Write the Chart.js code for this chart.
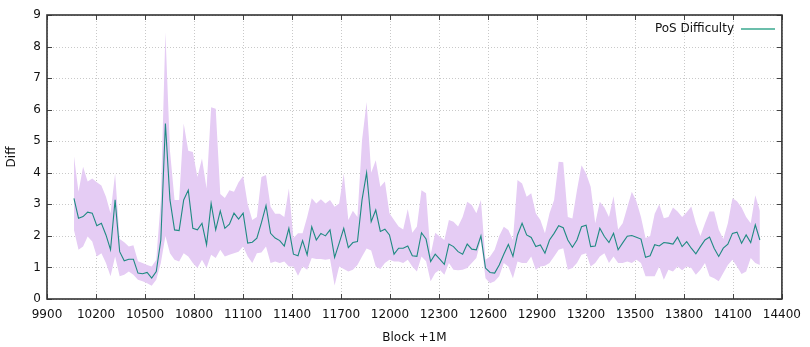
<!DOCTYPE html>
<html>
<head>
<meta charset="utf-8">
<script src="https://cdn.jsdelivr.net/npm/chart.js@4.4.0/dist/chart.umd.min.js"></script>
<style>
  html, body { margin: 0; padding: 0; background: #fff; }
  canvas { display: block; }
</style>
</head>
<body>
<canvas id="chart" width="810" height="347"></canvas>
<script>
// Block height (offset from 1M), sampled every 28 blocks
const blocks = [
  10065, 10093, 10121, 10149, 10177, 10205, 10233, 10261, 10289, 10317,
  10345, 10373, 10401, 10429, 10457, 10485, 10513, 10541, 10569, 10597,
  10625, 10653, 10681, 10709, 10737, 10765, 10793, 10821, 10849, 10877,
  10905, 10933, 10961, 10989, 11017, 11045, 11073, 11101, 11129, 11157,
  11185, 11213, 11241, 11269, 11297, 11325, 11353, 11381, 11409, 11437,
  11465, 11493, 11521, 11549, 11577, 11605, 11633, 11661, 11689, 11717,
  11745, 11773, 11801, 11829, 11857, 11885, 11913, 11941, 11969, 11997,
  12025, 12053, 12081, 12109, 12137, 12165, 12193, 12221, 12249, 12277,
  12305, 12333, 12361, 12389, 12417, 12445, 12473, 12501, 12529, 12557,
  12585, 12613, 12641, 12669, 12697, 12725, 12753, 12781, 12809, 12837,
  12865, 12893, 12921, 12949, 12977, 13005, 13033, 13061, 13089, 13117,
  13145, 13173, 13201, 13229, 13257, 13285, 13313, 13341, 13369, 13397,
  13425, 13453, 13481, 13509, 13537, 13565, 13593, 13621, 13649, 13677,
  13705, 13733, 13761, 13789, 13817, 13845, 13873, 13901, 13929, 13957,
  13985, 14013, 14041, 14069, 14097, 14125, 14153, 14181, 14209, 14237,
  14265
];

// Average PoS difficulty per sample
const diffMean = [
  3.19, 2.56, 2.61, 2.75, 2.72, 2.32, 2.40, 2.03, 1.56, 3.14,
  1.50, 1.21, 1.26, 1.26, 0.82, 0.80, 0.84, 0.66, 0.87, 1.87,
  5.56, 3.14, 2.19, 2.17, 3.14, 3.45, 2.24, 2.19, 2.40, 1.72,
  3.03, 2.19, 2.79, 2.24, 2.37, 2.72, 2.53, 2.72, 1.77, 1.80,
  1.93, 2.42, 2.96, 2.08, 1.93, 1.85, 1.68, 2.24, 1.42, 1.37,
  1.85, 1.40, 2.29, 1.87, 2.08, 2.00, 2.19, 1.32, 1.77, 2.24,
  1.63, 1.79, 1.82, 3.14, 4.00, 2.45, 2.82, 2.14, 2.21, 2.03,
  1.42, 1.61, 1.61, 1.68, 1.37, 1.35, 2.10, 1.90, 1.19, 1.42,
  1.26, 1.10, 1.74, 1.66, 1.50, 1.42, 1.74, 1.58, 1.56, 2.00,
  0.98, 0.84, 0.82, 1.08, 1.42, 1.73, 1.35, 2.03, 2.40, 2.03,
  1.95, 1.66, 1.71, 1.45, 1.87, 2.08, 2.32, 2.26, 1.87, 1.64,
  1.87, 2.29, 2.34, 1.66, 1.68, 2.24, 1.98, 1.79, 2.08, 1.56,
  1.78, 1.99, 2.01, 1.96, 1.90, 1.32, 1.37, 1.72, 1.68, 1.79,
  1.77, 1.74, 1.96, 1.66, 1.82, 1.61, 1.43, 1.66, 1.87, 1.96,
  1.61, 1.35, 1.61, 1.74, 2.08, 2.12, 1.77, 2.03, 1.79, 2.35,
  1.87
];

// Highest difficulty seen in each sample window
const diffMax = [
  4.53, 3.40, 4.19, 3.72, 3.82, 3.70, 3.60, 3.24, 2.72, 3.98,
  1.90, 1.80, 1.66, 1.70, 1.20, 1.14, 1.08, 1.03, 1.24, 3.14,
  8.45, 4.70, 3.14, 3.14, 5.56, 4.70, 4.66, 3.87, 4.45, 3.50,
  6.08, 6.03, 3.33, 3.20, 3.45, 3.40, 3.70, 3.90, 3.00, 2.50,
  2.60, 3.87, 3.93, 2.92, 2.70, 2.70, 2.60, 3.50, 1.93, 2.08,
  2.08, 2.60, 3.19, 3.03, 3.16, 3.03, 3.14, 2.92, 3.03, 3.98,
  2.50, 2.80, 2.60, 5.03, 6.24, 4.00, 4.40, 3.56, 3.72, 2.72,
  2.50, 2.30, 2.20, 2.85, 2.10, 2.30, 3.45, 3.35, 1.40, 2.10,
  1.98, 1.87, 2.50, 2.45, 2.30, 2.60, 3.08, 2.98, 2.72, 3.14,
  1.24, 1.35, 1.56, 2.00, 2.29, 2.19, 1.87, 3.77, 3.66, 3.24,
  3.35, 2.72, 2.50, 2.08, 2.72, 3.14, 4.35, 4.33, 2.60, 2.55,
  3.45, 4.24, 3.98, 3.56, 2.40, 3.08, 2.90, 2.60, 3.26, 2.20,
  2.40, 2.90, 3.40, 3.10, 2.60, 1.93, 2.00, 2.70, 3.00, 2.56,
  2.60, 2.90, 2.77, 2.60, 2.75, 2.93, 2.40, 2.00, 2.40, 2.77,
  2.77, 2.20, 1.90, 2.40, 3.19, 3.10, 2.90, 2.60, 2.40, 3.29,
  2.80
];

// Lowest difficulty seen in each sample window
const diffMin = [
  2.19, 1.56, 1.66, 1.98, 1.82, 1.35, 1.45, 1.14, 0.72, 1.35,
  0.72, 0.77, 0.87, 0.77, 0.61, 0.56, 0.50, 0.42, 0.61, 1.14,
  2.00, 1.45, 1.24, 1.19, 1.45, 1.35, 1.14, 0.98, 1.24, 0.98,
  1.40, 1.30, 1.56, 1.35, 1.40, 1.45, 1.50, 1.66, 1.35, 1.14,
  1.45, 1.47, 1.66, 1.14, 1.19, 1.14, 1.19, 1.03, 1.03, 0.74,
  1.03, 0.93, 1.30, 1.27, 1.27, 1.24, 1.27, 0.43, 1.03, 0.95,
  0.87, 0.93, 1.08, 1.35, 1.60, 1.54, 1.03, 0.95, 1.14, 1.24,
  1.19, 1.19, 1.14, 1.24, 1.03, 0.87, 1.35, 1.20, 0.56, 0.82,
  0.93, 0.77, 1.14, 0.93, 0.91, 0.93, 0.98, 1.14, 1.30, 1.87,
  0.66, 0.50, 0.56, 0.72, 1.14, 1.03, 0.66, 1.19, 1.14, 1.14,
  1.35, 0.93, 1.03, 1.05, 1.14, 1.35, 1.56, 1.61, 0.93, 0.98,
  1.14, 1.40, 1.45, 1.03, 1.14, 1.35, 1.45, 1.14, 1.35, 1.14,
  1.14, 1.19, 1.14, 1.24, 1.14, 0.72, 0.72, 0.72, 1.03, 0.61,
  0.93, 0.87, 1.03, 0.91, 1.03, 0.98, 0.77, 0.93, 1.14, 0.72,
  0.66, 0.56, 0.82, 1.08, 1.24, 1.03, 0.79, 0.87, 1.30, 1.14,
  1.08
];

const xTicks = [9900, 10200, 10500, 10800, 11100, 11400, 11700, 12000, 12300,
                12600, 12900, 13200, 13500, 13800, 14100, 14400];
const yTicks = [0, 1, 2, 3, 4, 5, 6, 7, 8, 9];

const seriesLabel = 'PoS Difficulty';
const xTitle = 'Block +1M';
const yTitle = 'Diff';

const FONT = '"DejaVu Sans", "Liberation Sans", sans-serif';
const LINE_COLOR = '#1f8a82';
const KEY_COLOR = '#3aa88f';
const BAND_COLOR = 'rgb(229, 204, 244)';

const toPoints = (vals) => blocks.map((b, i) => ({ x: b, y: vals[i] }));

// Grid, frame with inward ticks, axis titles and the key
const decorations = {
  id: 'decorations',
  beforeDatasetsDraw(chart) {
    const { ctx, chartArea: a, scales: { x, y } } = chart;
    ctx.save();
    ctx.strokeStyle = '#c9c9c9';
    ctx.lineWidth = 1;
    ctx.setLineDash([1, 2]);
    ctx.beginPath();
    xTicks.forEach(v => {
      const px = Math.round(x.getPixelForValue(v)) + 0.5;
      ctx.moveTo(px, a.top); ctx.lineTo(px, a.bottom);
    });
    yTicks.forEach(v => {
      const py = Math.round(y.getPixelForValue(v)) + 0.5;
      ctx.moveTo(a.left, py); ctx.lineTo(a.right, py);
    });
    ctx.stroke();
    ctx.restore();
  },
  afterDatasetsDraw(chart) {
    const { ctx, chartArea: a, scales: { x, y } } = chart;
    ctx.save();
    // ticks pointing into the plot on all four sides
    ctx.strokeStyle = '#444';
    ctx.lineWidth = 1;
    ctx.setLineDash([]);
    ctx.beginPath();
    const t = 5;
    xTicks.forEach(v => {
      const px = Math.round(x.getPixelForValue(v)) + 0.5;
      ctx.moveTo(px, a.bottom); ctx.lineTo(px, a.bottom - t);
      ctx.moveTo(px, a.top); ctx.lineTo(px, a.top + t);
    });
    yTicks.forEach(v => {
      const py = Math.round(y.getPixelForValue(v)) + 0.5;
      ctx.moveTo(a.left, py); ctx.lineTo(a.left + t, py);
      ctx.moveTo(a.right, py); ctx.lineTo(a.right - t, py);
    });
    ctx.stroke();
    // frame
    ctx.strokeStyle = '#333';
    ctx.lineWidth = 1.6;
    ctx.strokeRect(a.left, a.top, a.right - a.left, a.bottom - a.top);

    // axis titles
    ctx.fillStyle = '#111';
    ctx.font = '12px ' + FONT;
    ctx.textAlign = 'center';
    ctx.textBaseline = 'middle';
    ctx.fillText(xTitle, (a.left + a.right) / 2, 338);
    ctx.save();
    ctx.translate(12, (a.top + a.bottom) / 2);
    ctx.rotate(-Math.PI / 2);
    ctx.fillText(yTitle, 0, 0);
    ctx.restore();

    // key
    ctx.textAlign = 'right';
    ctx.fillText(seriesLabel, 734, 29);
    ctx.strokeStyle = KEY_COLOR;
    ctx.lineWidth = 1.6;
    ctx.beginPath();
    ctx.moveTo(741, 29); ctx.lineTo(775, 29);
    ctx.stroke();
    ctx.restore();
  }
};

new Chart(document.getElementById('chart'), {
  type: 'line',
  data: {
    datasets: [
      {
        label: seriesLabel,
        data: toPoints(diffMean),
        borderColor: LINE_COLOR,
        borderWidth: 1.1,
        pointRadius: 0,
        tension: 0,
        fill: false,
        order: 0
      },
      {
        label: 'max',
        data: toPoints(diffMax),
        borderWidth: 0,
        borderColor: 'rgba(0,0,0,0)',
        backgroundColor: BAND_COLOR,
        pointRadius: 0,
        tension: 0,
        fill: '+1',
        order: 1
      },
      {
        label: 'min',
        data: toPoints(diffMin),
        borderWidth: 0,
        borderColor: 'rgba(0,0,0,0)',
        pointRadius: 0,
        tension: 0,
        fill: false,
        order: 2
      }
    ]
  },
  options: {
    responsive: false,
    animation: false,
    devicePixelRatio: 1,
    events: [],
    layout: { padding: { top: 15, right: 20.5, left: 0, bottom: 0 } },
    plugins: {
      legend: { display: false },
      tooltip: { enabled: false },
      filler: { propagate: false }
    },
    scales: {
      x: {
        type: 'linear',
        min: 9900,
        max: 14400,
        afterBuildTicks: (scale) => { scale.ticks = xTicks.map(v => ({ value: v })); },
        afterFit: (scale) => { scale.height = 48; },
        grid: { display: false, drawTicks: false },
        border: { display: false },
        ticks: {
          autoSkip: false,
          maxRotation: 0,
          padding: 9,
          color: '#111',
          font: { family: FONT, size: 12 },
          callback: (v) => String(v)
        }
      },
      y: {
        type: 'linear',
        min: 0,
        max: 9,
        afterBuildTicks: (scale) => { scale.ticks = yTicks.map(v => ({ value: v })); },
        afterFit: (scale) => { scale.width = 47; },
        grid: { display: false, drawTicks: false },
        border: { display: false },
        ticks: {
          padding: 6,
          color: '#111',
          font: { family: FONT, size: 12 },
          callback: (v) => String(v)
        }
      }
    }
  },
  plugins: [decorations]
});
</script>
</body>
</html>
